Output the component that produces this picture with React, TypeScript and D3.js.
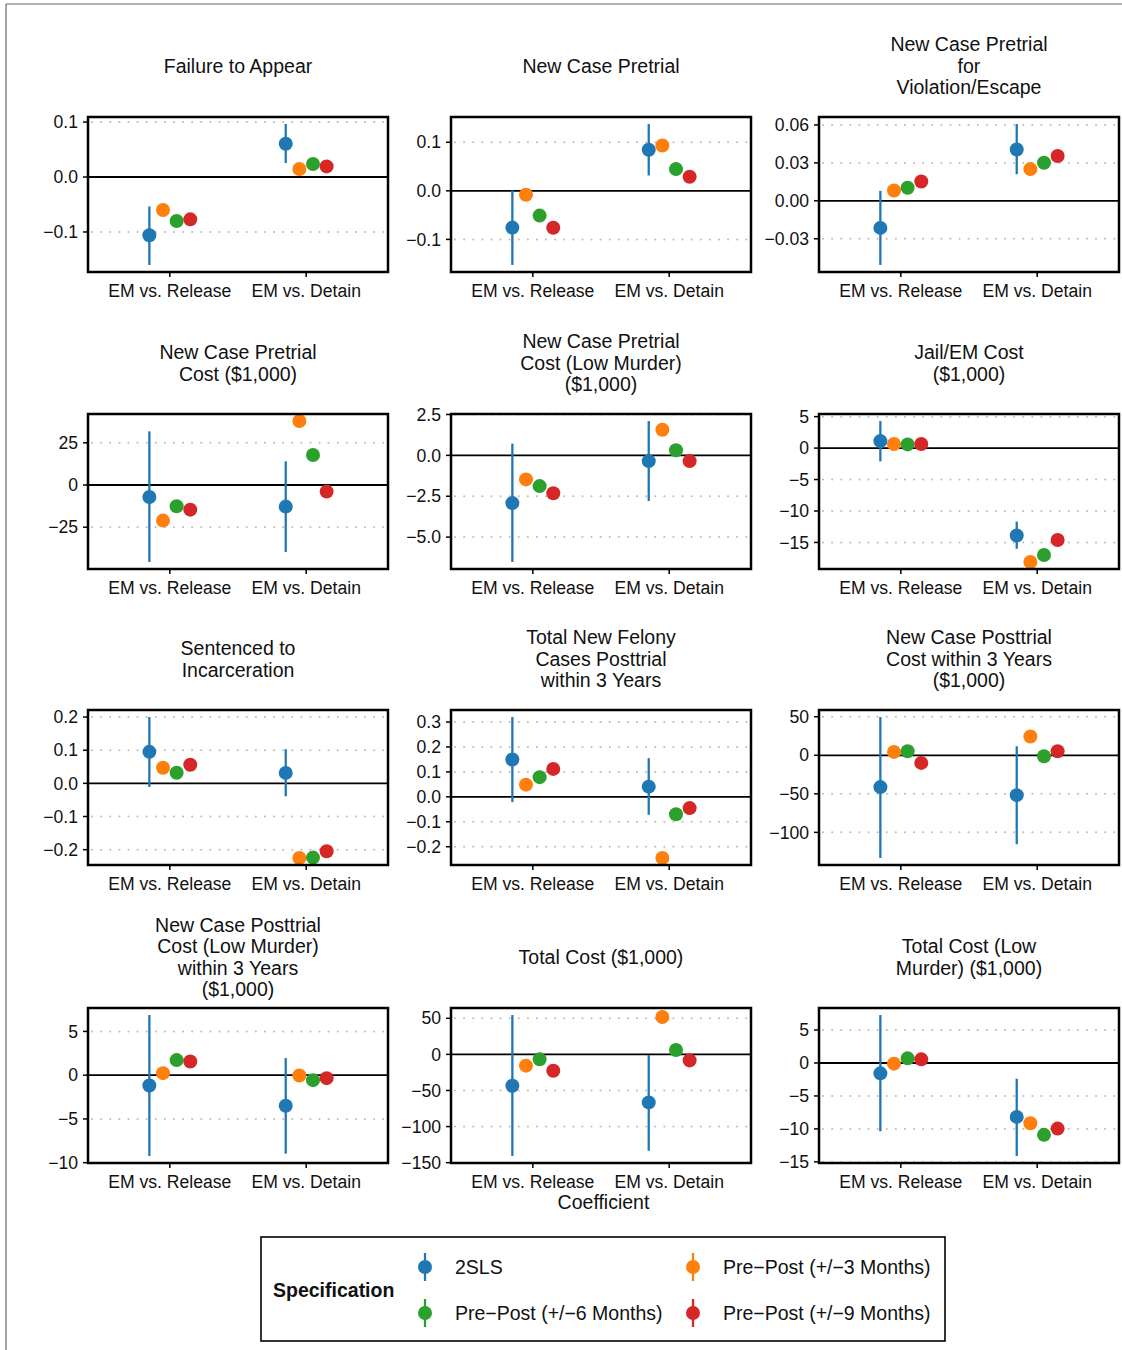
import * as d3 from 'd3';

const categories = ['EM vs. Release', 'EM vs. Detain'];
const specs = ['2SLS', 'Pre\u2212Post (+/\u22123 Months)', 'Pre\u2212Post (+/\u22126 Months)', 'Pre\u2212Post (+/\u22129 Months)'];
const specColors = ['#1f77b4', '#ff7f0e', '#2ca02c', '#d62728'];

const panelTitles = [
  ['Failure to Appear'],
  ['New Case Pretrial'],
  ['New Case Pretrial', 'for', 'Violation/Escape'],
  ['New Case Pretrial', 'Cost ($1,000)'],
  ['New Case Pretrial', 'Cost (Low Murder)', '($1,000)'],
  ['Jail/EM Cost', '($1,000)'],
  ['Sentenced to', 'Incarceration'],
  ['Total New Felony', 'Cases Posttrial', 'within 3 Years'],
  ['New Case Posttrial', 'Cost within 3 Years', '($1,000)'],
  ['New Case Posttrial', 'Cost (Low Murder)', 'within 3 Years', '($1,000)'],
  ['Total Cost ($1,000)'],
  ['Total Cost (Low', 'Murder) ($1,000)'],
];

// [EM vs. Release, EM vs. Detain] per panel
const est2SLS = [
  [-0.106, 0.0605], [-0.0757, 0.0845], [-0.0214, 0.0406], [-7.1, -12.8],
  [-2.92, -0.35], [1.11, -13.9], [0.095, 0.0315], [0.15, 0.041],
  [-41.3, -51.7], [-1.18, -3.5], [-43.4, -66.5], [-1.57, -8.18],
];
const lo2SLS = [
  [-0.16, 0.0255], [-0.1526, 0.0316], [-0.0507, 0.0211], [-45.6, -39.7],
  [-6.52, -2.79], [-2.12, -16.0], [-0.011, -0.039], [-0.021, -0.072],
  [-133.2, -115.3], [-9.23, -8.97], [-140.7, -133.4], [-10.36, -14.1],
];
const hi2SLS = [
  [-0.0535, 0.0964], [0.001, 0.1375], [0.0079, 0.0607], [31.8, 14.0],
  [0.72, 2.1], [4.3, -11.7], [0.2, 0.103], [0.32, 0.155],
  [49.6, 11.7], [6.87, 1.95], [54.5, -0.9], [7.27, -2.38],
];
const estPP3 = [
  [-0.06, 0.0145], [-0.008, 0.0934], [0.0082, 0.0251], [-21.1, 37.9],
  [-1.47, 1.57], [0.64, -18.1], [0.047, -0.225], [0.049, -0.245],
  [4.4, 24.4], [0.23, -0.04], [-15.6, 51.8], [-0.1, -9.15],
];
const estPP6 = [
  [-0.08, 0.0236], [-0.051, 0.0447], [0.0103, 0.0301], [-12.6, 17.8],
  [-1.88, 0.31], [0.59, -17.0], [0.032, -0.224], [0.079, -0.07],
  [5.2, -1.3], [1.72, -0.57], [-6.9, 6.0], [0.7, -10.9],
];
const estPP9 = [
  [-0.077, 0.0193], [-0.076, 0.0289], [0.0153, 0.0354], [-14.6, -3.9],
  [-2.32, -0.35], [0.64, -14.6], [0.056, -0.205], [0.112, -0.045],
  [-9.9, 5.2], [1.57, -0.34], [-22.6, -8.3], [0.55, -9.95],
];

const yTicks = [
  [-0.1, 0, 0.1], [-0.1, 0, 0.1], [-0.03, 0, 0.03, 0.06], [-25, 0, 25],
  [-5, -2.5, 0, 2.5], [-15, -10, -5, 0, 5], [-0.2, -0.1, 0, 0.1, 0.2], [-0.2, -0.1, 0, 0.1, 0.2, 0.3],
  [-100, -50, 0, 50], [-10, -5, 0, 5], [-150, -100, -50, 0, 50], [-15, -10, -5, 0, 5],
];
const yFormats = ['.1f', '.1f', '.2f', 'd', '.1f', 'd', '.1f', '.1f', 'd', 'd', 'd', 'd'];

const FONT = '"Liberation Sans", Arial, Helvetica, sans-serif';
const INK = '#111';
const colLeft = [88, 451, 819];
const rowTop = [117, 414, 710, 1008];
const panelW = 300;
const panelH = 155;

function Panel({ i }: { i: number }) {
  const left = colLeft[i % 3];
  const top = rowTop[Math.floor(i / 3)];
  const pointSets = [est2SLS[i], estPP3[i], estPP6[i], estPP9[i]];
  const all = [...lo2SLS[i], ...hi2SLS[i], ...pointSets.flat()];
  const [mn, mx] = d3.extent(all) as [number, number];
  const pad = (mx - mn) * 0.05;
  const y = d3.scaleLinear().domain([mn - pad, mx + pad]).range([panelH, 0]);
  const x = d3.scalePoint<string>().domain(categories).range([0, panelW]).padding(0.6);
  const dodge = (k: number) => (k - 1.5) * 0.1 * x.step();
  const fmt = d3.format(yFormats[i]);
  const lines = panelTitles[i];
  const lh = 21.5;
  const titleMid = top - 51;

  return (
    <g>
      <text fontFamily={FONT} fontSize={19.5} fill={INK} textAnchor="middle">
        {lines.map((t, j) => (
          <tspan key={j} x={left + panelW / 2} y={titleMid + (j - (lines.length - 1) / 2) * lh} dy="0.35em">{t}</tspan>
        ))}
      </text>
      <g transform={`translate(${left},${top})`}>
        {yTicks[i].filter(t => t !== 0).map(t => (
          <line key={t} x1={4} x2={panelW} y1={y(t)} y2={y(t)} stroke="#bdbdbd" strokeWidth={2}
            strokeLinecap="round" strokeDasharray="0.1 9" />
        ))}
        <line x1={0} x2={panelW} y1={y(0)} y2={y(0)} stroke="#000" strokeWidth={1.8} />
        {categories.map((c, ci) => (
          <line key={c} x1={x(c)! + dodge(0)} x2={x(c)! + dodge(0)} y1={y(lo2SLS[i][ci])} y2={y(hi2SLS[i][ci])}
            stroke={specColors[0]} strokeWidth={2.3} />
        ))}
        {pointSets.map((vals, k) => categories.map((c, ci) => (
          <circle key={`${k}-${c}`} cx={x(c)! + dodge(k)} cy={y(vals[ci])} r={7} fill={specColors[k]} />
        )))}
        <rect x={0} y={0} width={panelW} height={panelH} fill="none" stroke="#000" strokeWidth={2.5} />
        {yTicks[i].map(t => (
          <g key={t}>
            <line x1={-5} x2={0} y1={y(t)} y2={y(t)} stroke="#000" strokeWidth={1.5} />
            <text x={-10} y={y(t)} dy="0.35em" textAnchor="end" fontFamily={FONT} fontSize={17.6} fill={INK}>{fmt(t)}</text>
          </g>
        ))}
        {categories.map(c => (
          <g key={c}>
            <line x1={x(c)} x2={x(c)} y1={panelH} y2={panelH + 5} stroke="#000" strokeWidth={1.5} />
            <text x={x(c)} y={panelH + 24.5} textAnchor="middle" fontFamily={FONT} fontSize={17.6} fill={INK}>{c}</text>
          </g>
        ))}
      </g>
    </g>
  );
}

function Legend() {
  const keyX = [425, 693];
  const keyY = [1267, 1313];
  return (
    <g fontFamily={FONT} fontSize={19.5} fill={INK}>
      <rect x={261} y={1237} width={684} height={104} fill="#fff" stroke="#000" strokeWidth={1.6} />
      <text x={273} y={1290} dy="0.35em" fontWeight="bold">Specification</text>
      {specs.map((s, k) => {
        const cx = keyX[k % 2];
        const cy = keyY[Math.floor(k / 2)];
        return (
          <g key={s}>
            <line x1={cx} x2={cx} y1={cy - 14} y2={cy + 14} stroke={specColors[k]} strokeWidth={2.3} />
            <circle cx={cx} cy={cy} r={7} fill={specColors[k]} />
            <text x={cx + 30} y={cy} dy="0.35em">{s}</text>
          </g>
        );
      })}
    </g>
  );
}

export default function App() {
  return (
    <svg width={1122} height={1350} style={{ position: 'absolute', left: 0, top: 0, background: '#fff' }}>
      <rect x={0} y={0} width={1122} height={1350} fill="#fff" />
      <line x1={6} x2={1122} y1={4} y2={4} stroke="#666" strokeWidth={1.2} />
      <line x1={6} x2={6} y1={4} y2={1350} stroke="#666" strokeWidth={1.2} />
      {panelTitles.map((_, i) => <Panel key={i} i={i} />)}
      <text x={603.5} y={1202} dy="0.35em" textAnchor="middle" fontFamily={FONT} fontSize={19.5} fill={INK}>Coefficient</text>
      <Legend />
    </svg>
  );
}
